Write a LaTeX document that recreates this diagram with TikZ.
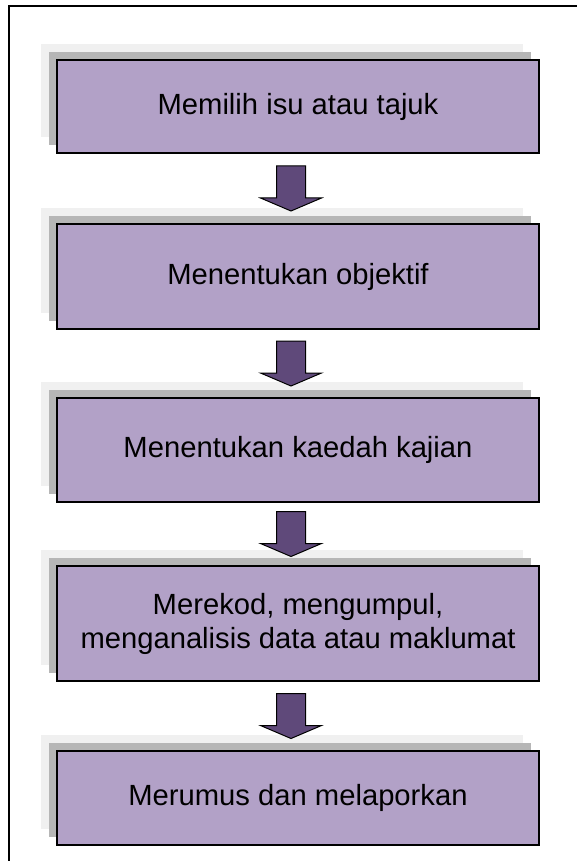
\documentclass[tikz,border=0pt]{standalone}
\usepackage{fontspec}
\setmainfont{Liberation Sans}
\usetikzlibrary{positioning, shadows, calc}
\definecolor{boxfill}{HTML}{B2A1C7}
\definecolor{arrowfill}{HTML}{5F497A}
\definecolor{shadowlight}{HTML}{F0F0F0}
\definecolor{shadowdark}{HTML}{B6B6B6}
\tikzset{
  stepbox/.style={draw, line width=1pt, fill=boxfill, minimum width=241pt,
    align=center, font=\fontsize{14.6pt}{17pt}\selectfont,
    general shadow={fill=shadowlight, shadow xshift=-8pt, shadow yshift=8pt}, % far shadow
    general shadow={fill=shadowdark, shadow xshift=-4pt, shadow yshift=4pt}}, % near shadow
  flowarrow/.style={draw, fill=arrowfill, line width=0.5pt, % block arrow between two boxes
    to path={let \p1=($(\tikztostart.south)!0.5!(\tikztotarget.north)+(-3.5pt,0)$) in
      (\x1-7.25pt,\y1+11.25pt) -- (\x1+7.25pt,\y1+11.25pt) -- (\x1+7.25pt,\y1-4.75pt)
      -- (\x1+15.25pt,\y1-4.75pt) -- (\x1,\y1-11.25pt) -- (\x1-15.25pt,\y1-4.75pt)
      -- (\x1-7.25pt,\y1-4.75pt) -- cycle}},
}
\begin{document}
\begin{tikzpicture}
  \useasboundingbox (0,0) rectangle (288.5pt,-430.5pt);
  \draw[line width=1pt] (4.5pt,-445pt) |- (300pt,-3pt); % frame, cut off at right and bottom

  \node[stepbox, minimum height=46.5pt] (isu) at (149pt,-53.25pt) {Memilih isu atau tajuk};
  \node[stepbox, minimum height=52.5pt] (objektif) [below=34.5pt of isu] {Menentukan objektif};
  \node[stepbox, minimum height=52pt] (kaedah) [below=33.5pt of objektif] {Menentukan kaedah kajian};
  \node[stepbox, minimum height=57.5pt] (data) [below=31pt of kaedah] {Merekod, mengumpul,\\menganalisis data atau maklumat};
  \node[stepbox, minimum height=47pt] (lapor) [below=34pt of data] {Merumus dan melaporkan};

  \path (isu) edge[flowarrow] (objektif)
        (objektif) edge[flowarrow] (kaedah)
        (kaedah) edge[flowarrow] (data)
        (data) edge[flowarrow] (lapor);
\end{tikzpicture}
\end{document}
